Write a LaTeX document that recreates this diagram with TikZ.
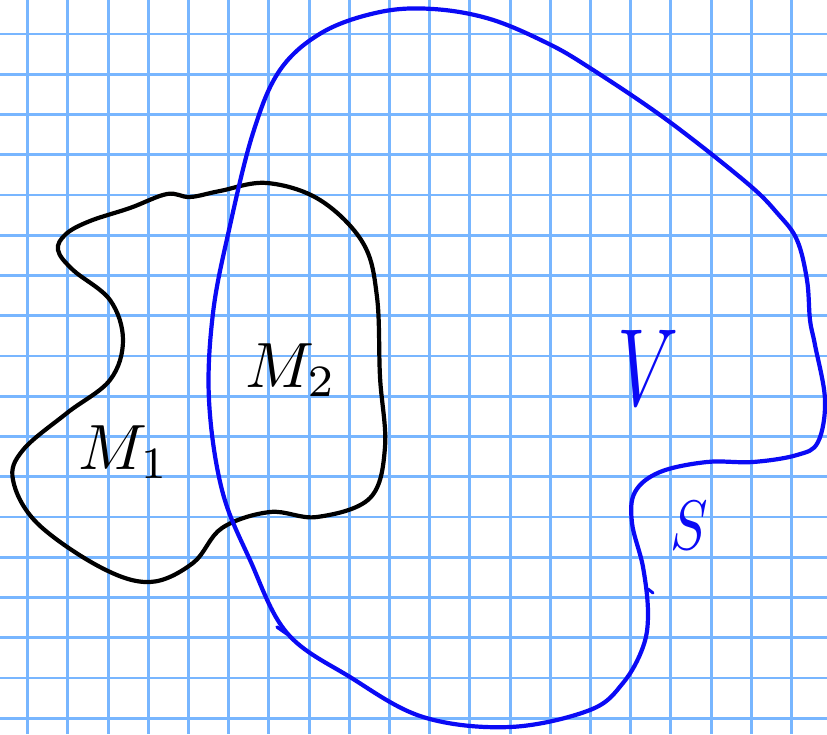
\documentclass[tikz,border=0pt]{standalone}
\usepackage{graphicx}
\definecolor{gridblue}{RGB}{120,182,255}
\definecolor{penblue}{RGB}{10,10,245}
\tikzset{
  gridline/.style={draw=gridblue, line width=2.9pt},
  blackpen/.style={draw=black, line width=4.2pt, line cap=round, line join=round},
  bluepen/.style={draw=penblue, line width=4.2pt, line cap=round, line join=round},
  lbl/.style={inner sep=0pt, outer sep=0pt}
}
\begin{document}
\begin{tikzpicture}[x=1pt,y=-1pt]
\useasboundingbox (0,0) rectangle (827,734);
\fill[white] (0,0) rectangle (827,734);
% grid
\foreach \i in {0,...,19} \draw[gridline] ({27.7+40.2*\i},0) -- ({27.7+40.2*\i},734);
\foreach \j in {0,...,17} \draw[gridline] (0,{34+40.25*\j}) -- (827,{34+40.25*\j});
% black region M
\draw[blackpen] plot[smooth cycle, tension=0.6] coordinates {
(58,250) (66,234) (90,221) (130,208) (167,194) (190,197) (220,191) (267,183) (320,200) (363,243) (377,297) (380,377) (385,447) (370,498) (317,517) (270,512) (222,528) (193,563) (150,582) (100,567) (37,523) (13,480) (23,450) (67,413) (110,380) (123,340) (110,300) (73,270)};
% blue surface S
\draw[bluepen] plot[smooth cycle, tension=0.6] coordinates {
(287,633) (250,560) (222,490) (209,400) (213,313) (229,230) (253,133) (280,70) (323,32) (380,12) (433,9) (490,19) (547,43) (590,68) (667,120) (747,183) (778,214) (797,240) (807,280) (810,320) (815,345) (825,400) (818,442) (797,455) (753,462) (707,462) (660,472) (635,492) (632,523) (643,567) (648,613) (643,647) (623,683) (590,710) (510,727) (423,717) (350,677)};
\coordinate (h1) at (277,627);
\coordinate (h2) at (287,634);
\draw[bluepen, line width=3.4pt] (h1) -- (h2);
\coordinate (t1) at (648,589);
\coordinate (t2) at (653,593);
\draw[bluepen, line width=3pt] (t1) -- (t2);
% labels
\node[lbl] (m1) at (124,452) {\scalebox{6.4}{$M_1$}};
\node[lbl] (m2) at (291,370) {\scalebox{6.4}{$M_2$}};
\node[lbl, text=penblue] (v) at (648,368) {\scalebox{7.6}[11]{$V$}};
\node[lbl, text=penblue] (s) at (689,526) {\scalebox{5.6}[7]{$S$}};
\end{tikzpicture}
\end{document}
